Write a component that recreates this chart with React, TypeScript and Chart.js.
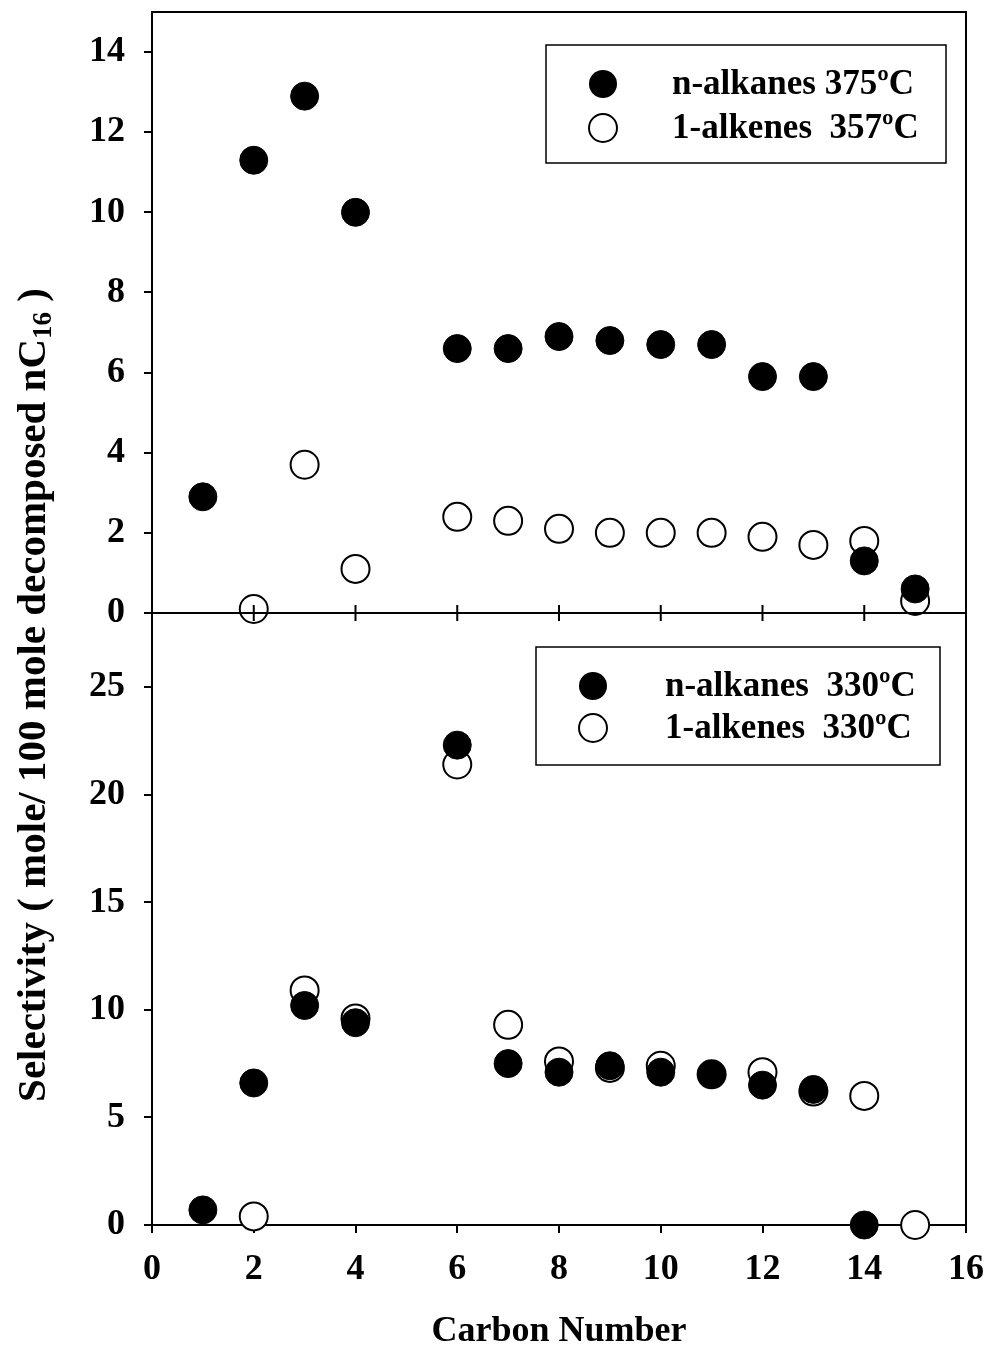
import React, { useEffect, useRef } from 'react';
import { Chart, registerables } from 'chart.js';

Chart.register(...registerables);

// ---- data ----
const topAlkaneCarbons = [1, 2, 3, 4, 6, 7, 8, 9, 10, 11, 12, 13, 14, 15];
const topAlkaneValues = [2.9, 11.3, 12.9, 10.0, 6.6, 6.6, 6.9, 6.8, 6.7, 6.7, 5.9, 5.9, 1.3, 0.6];
const topAlkeneCarbons = [2, 3, 4, 6, 7, 8, 9, 10, 11, 12, 13, 14, 15];
const topAlkeneValues = [0.1, 3.7, 1.1, 2.4, 2.3, 2.1, 2.0, 2.0, 2.0, 1.9, 1.7, 1.8, 0.3];

const botAlkaneCarbons = [1, 2, 3, 4, 6, 7, 8, 9, 10, 11, 12, 13, 14];
const botAlkaneValues = [0.7, 6.6, 10.2, 9.4, 22.3, 7.5, 7.1, 7.4, 7.1, 7.0, 6.5, 6.3, 0.0];
const botAlkeneCarbons = [2, 3, 4, 6, 7, 8, 9, 10, 11, 12, 13, 14, 15];
const botAlkeneValues = [0.4, 10.9, 9.6, 21.4, 9.3, 7.6, 7.3, 7.4, 7.0, 7.1, 6.2, 6.0, 0.0];

const xTickValues = [0, 2, 4, 6, 8, 10, 12, 14, 16];
const topYTickValues = [0, 2, 4, 6, 8, 10, 12, 14];
const botYTickValues = [0, 5, 10, 15, 20, 25];

const topLegendLabels = ['n-alkanes 375ºC', '1-alkenes  357ºC'];
const botLegendLabels = ['n-alkanes  330ºC', '1-alkenes  330ºC'];

const xTitle = 'Carbon Number';
const yTitleMain = 'Selectivity ( mole/ 100 mole decomposed nC';
const yTitleSub = '16';
const yTitleEnd = ' )';

const FONT = "'Liberation Serif', 'Times New Roman', serif";

const toPoints = (xs: number[], ys: number[]) => xs.map((x, i) => ({ x, y: ys[i] }));

const zeroPad = (s: any) => {
  s.paddingTop = 0;
  s.paddingBottom = 0;
  s.paddingLeft = 0;
  s.paddingRight = 0;
};

const decorPlugin = {
  id: 'decor',
  afterDatasetsDraw(chart: any) {
    const { ctx, chartArea } = chart;
    const xs = chart.scales.x;
    const yt = chart.scales.yTop;
    ctx.save();
    ctx.strokeStyle = '#000';
    ctx.lineWidth = 2;
    ctx.beginPath();
    ctx.moveTo(chartArea.left, chartArea.top);
    ctx.lineTo(chartArea.right, chartArea.top);
    ctx.lineTo(chartArea.right, chartArea.bottom);
    ctx.stroke();
    const dy = yt.getPixelForValue(0);
    ctx.beginPath();
    ctx.moveTo(chartArea.left, dy);
    ctx.lineTo(chartArea.right, dy);
    for (const v of xTickValues) {
      const px = xs.getPixelForValue(v);
      ctx.moveTo(px, dy - 8);
      ctx.lineTo(px, dy + 8);
    }
    ctx.stroke();
    ctx.restore();
  },
  afterDraw(chart: any) {
    const { ctx } = chart;
    ctx.save();
    const drawLegend = (bx: number, by: number, bw: number, bh: number, mx: number, tx: number, rows: number[], labels: string[]) => {
      ctx.fillStyle = '#fff';
      ctx.fillRect(bx, by, bw, bh);
      ctx.strokeStyle = '#000';
      ctx.lineWidth = 1.5;
      ctx.strokeRect(bx, by, bw, bh);
      labels.forEach((lab, i) => {
        ctx.beginPath();
        ctx.arc(mx, rows[i], 14, 0, Math.PI * 2);
        if (i === 0) {
          ctx.fillStyle = '#000';
          ctx.fill();
        } else {
          ctx.fillStyle = '#fff';
          ctx.fill();
          ctx.lineWidth = 2;
          ctx.stroke();
        }
        ctx.fillStyle = '#000';
        ctx.font = `bold 35px ${FONT}`;
        ctx.textAlign = 'left';
        ctx.textBaseline = 'middle';
        ctx.fillText(lab, tx, rows[i] + 1);
      });
    };
    drawLegend(546, 45, 400, 118, 603, 672, [84, 128], topLegendLabels);
    drawLegend(536, 647, 404, 118, 593, 665, [686, 728], botLegendLabels);

    // y title with subscript
    const mainFont = `bold 41px ${FONT}`;
    const subFont = `bold 27px ${FONT}`;
    ctx.font = mainFont;
    const w1 = ctx.measureText(yTitleMain).width;
    const w3 = ctx.measureText(yTitleEnd).width;
    ctx.font = subFont;
    const w2 = ctx.measureText(yTitleSub).width;
    const total = w1 + w2 + w3;
    const cx = 34;
    const cy = 695;
    ctx.translate(cx, cy);
    ctx.rotate(-Math.PI / 2);
    ctx.fillStyle = '#000';
    ctx.textBaseline = 'middle';
    ctx.textAlign = 'left';
    let x0 = -total / 2;
    ctx.font = mainFont;
    ctx.fillText(yTitleMain, x0, 0);
    x0 += w1;
    ctx.font = subFont;
    ctx.fillText(yTitleSub, x0, 10);
    x0 += w2;
    ctx.font = mainFont;
    ctx.fillText(yTitleEnd, x0, 0);
    ctx.restore();
  },
};

export default function App() {
  const ref = useRef<HTMLCanvasElement | null>(null);
  useEffect(() => {
    if (!ref.current) return;
    const tickFont = { family: FONT, size: 36, weight: 'bold' as const };
    const gridOpts = {
      drawOnChartArea: false,
      drawTicks: true,
      tickLength: 8,
      color: '#000',
      lineWidth: 2,
    };
    const borderOpts = { display: true, color: '#000', width: 2 };
    const chart = new Chart(ref.current, {
      type: 'scatter',
      data: {
        datasets: [
          {
            label: topLegendLabels[0],
            data: toPoints(topAlkaneCarbons, topAlkaneValues),
            yAxisID: 'yTop',
            pointRadius: 14,
            pointBackgroundColor: '#000',
            pointBorderColor: '#000',
            pointBorderWidth: 1,
            clip: false,
          },
          {
            label: botLegendLabels[0],
            data: toPoints(botAlkaneCarbons, botAlkaneValues),
            yAxisID: 'yBot',
            pointRadius: 14,
            pointBackgroundColor: '#000',
            pointBorderColor: '#000',
            pointBorderWidth: 1,
            clip: false,
          },
          {
            label: topLegendLabels[1],
            data: toPoints(topAlkeneCarbons, topAlkeneValues),
            yAxisID: 'yTop',
            pointRadius: 14,
            pointBackgroundColor: '#fff',
            pointBorderColor: '#000',
            pointBorderWidth: 2,
            clip: false,
          },
          {
            label: botLegendLabels[1],
            data: toPoints(botAlkeneCarbons, botAlkeneValues),
            yAxisID: 'yBot',
            pointRadius: 14,
            pointBackgroundColor: '#fff',
            pointBorderColor: '#000',
            pointBorderWidth: 2,
            clip: false,
          },
        ],
      },
      options: {
        responsive: false,
        animation: false,
        devicePixelRatio: 1,
        events: [],
        layout: { autoPadding: false, padding: { top: 12, right: 26, left: 0, bottom: 0 } },
        plugins: { legend: { display: false }, tooltip: { enabled: false }, title: { display: false } },
        scales: {
          x: {
            type: 'linear',
            position: 'bottom',
            min: 0,
            max: 16,
            afterBuildTicks: (s: any) => {
              s.ticks = xTickValues.map((v) => ({ value: v }));
            },
            afterFit: (s: any) => {
              s.height = 128;
              zeroPad(s);
            },
            ticks: { font: tickFont, color: '#000', padding: 15 },
            grid: gridOpts,
            border: borderOpts,
            title: {
              display: true,
              text: xTitle,
              color: '#000',
              font: { family: FONT, size: 36, weight: 'bold' },
              padding: { top: 0, bottom: 0 },
            },
          },
          yBot: {
            type: 'linear',
            position: 'left',
            stack: 'panels',
            stackWeight: 612,
            min: 0,
            max: 28.44,
            afterBuildTicks: (s: any) => {
              s.ticks = botYTickValues.map((v) => ({ value: v }));
            },
            afterFit: (s: any) => {
              s.width = 152;
              zeroPad(s);
            },
            ticks: { font: tickFont, color: '#000', padding: 19 },
            grid: gridOpts,
            border: borderOpts,
          },
          yTop: {
            type: 'linear',
            position: 'left',
            stack: 'panels',
            stackWeight: 601,
            min: 0,
            max: 15,
            afterBuildTicks: (s: any) => {
              s.ticks = topYTickValues.map((v) => ({ value: v }));
            },
            afterFit: (s: any) => {
              s.width = 152;
              zeroPad(s);
            },
            ticks: { font: tickFont, color: '#000', padding: 19 },
            grid: gridOpts,
            border: borderOpts,
          },
        },
      },
      plugins: [decorPlugin],
    } as any);
    return () => chart.destroy();
  }, []);
  return (
    <div style={{ position: 'absolute', left: 0, top: 0, width: 992, height: 1353, background: '#fff' }}>
      <canvas ref={ref} width={992} height={1353} style={{ width: 992, height: 1353, display: 'block' }} />
    </div>
  );
}
